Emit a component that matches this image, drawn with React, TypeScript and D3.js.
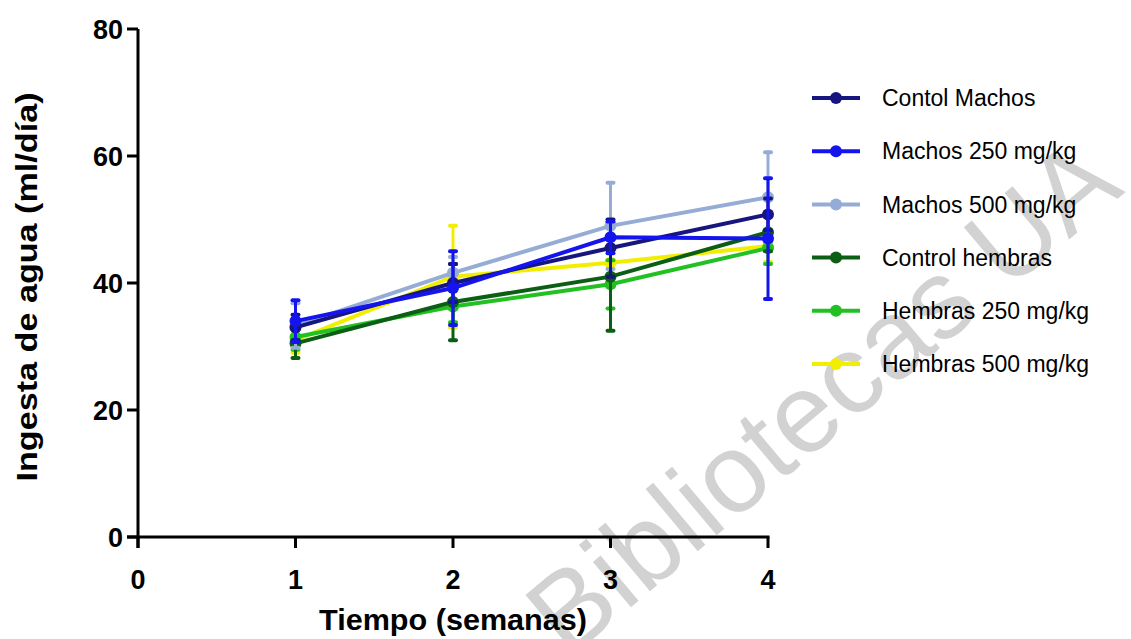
import * as d3 from 'd3'

const width = 1131
const height = 639

// weeks on the x axis
const weeks = [1, 2, 3, 4]
const xTicks = [0, 1, 2, 3, 4]
const yTicks = [0, 20, 40, 60, 80]

const seriesNames = [
  'Contol Machos',
  'Machos 250 mg/kg',
  'Machos 500 mg/kg',
  'Control hembras',
  'Hembras 250 mg/kg',
  'Hembras 500 mg/kg',
]
const seriesColors = ['#16167e', '#1414ee', '#95acd6', '#0c5e14', '#22c022', '#f2ee00']

// mean water intake (ml/day)
const controlMachos = [33.0, 40.0, 45.5, 50.8]
const machos250 = [34.0, 39.2, 47.2, 47.0]
const machos500 = [33.3, 41.6, 49.0, 53.5]
const controlHembras = [30.5, 37.0, 41.0, 48.0]
const hembras250 = [31.5, 36.3, 39.8, 45.5]
const hembras500 = [31.0, 41.0, 43.2, 45.8]

// error (SD)
const controlMachosSd = [2.0, 3.0, 4.5, 2.5]
const machos250Sd = [3.3, 5.8, 2.5, 9.5]
const machos500Sd = [3.5, 2.5, 6.8, 7.1]
const controlHembrasSd = [2.3, 6.0, 8.5, 3.0]
const hembras250Sd = [2.0, 2.5, 3.8, 2.5]
const hembras500Sd = [2.0, 8.0, 2.5, 2.5]

const means = [controlMachos, machos250, machos500, controlHembras, hembras250, hembras500]
const sds = [controlMachosSd, machos250Sd, machos500Sd, controlHembrasSd, hembras250Sd, hembras500Sd]

// drawing order: last one on top
const drawOrder = [5, 4, 3, 2, 0, 1]

const font = "'Liberation Sans', Arial, sans-serif"

function App() {
  const xScale = d3.scaleLinear().domain([0, 4]).range([138, 768])
  const yScale = d3.scaleLinear().domain([0, 80]).range([537, 29])

  const line = d3
    .line<number>()
    .x((_, i) => xScale(weeks[i]))
    .y((d) => yScale(d))

  const legendX = 812
  const legendY0 = 98
  const legendStep = 53.2

  return (
    <svg
      width={width}
      height={height}
      style={{ position: 'absolute', left: 0, top: 0, background: '#fff' }}
    >
      {/* watermark */}
      <text
        transform="translate(568,660) rotate(-40)"
        fontFamily={font}
        fontSize={112}
        fill="#d2d2d2"
      >
        Bibliotecas UA
      </text>

      {/* y axis */}
      <line x1={xScale(0)} x2={xScale(0)} y1={yScale(80)} y2={yScale(0) + 11} stroke="#000" strokeWidth={3} />
      {yTicks.map((t) => (
        <g key={t} transform={`translate(${xScale(0)},${yScale(t)})`}>
          <line x1={-11} x2={0} stroke="#000" strokeWidth={3} />
          <text
            x={-15}
            dy=".36em"
            textAnchor="end"
            fontFamily={font}
            fontWeight="bold"
            fontSize={27}
          >
            {t}
          </text>
        </g>
      ))}

      {/* x axis */}
      <line x1={xScale(0) - 11} x2={xScale(4) + 1.5} y1={yScale(0)} y2={yScale(0)} stroke="#000" strokeWidth={3} />
      {xTicks.map((t) => (
        <g key={t} transform={`translate(${xScale(t)},${yScale(0)})`}>
          <line y1={0} y2={11} stroke="#000" strokeWidth={3} />
          <text
            y={52}
            textAnchor="middle"
            fontFamily={font}
            fontWeight="bold"
            fontSize={27}
          >
            {t}
          </text>
        </g>
      ))}

      {/* axis titles */}
      <text
        x={453}
        y={630}
        textAnchor="middle"
        fontFamily={font}
        fontWeight="bold"
        fontSize={30}
        textLength={268}
        lengthAdjust="spacingAndGlyphs"
      >
        Tiempo (semanas)
      </text>
      <text
        transform="translate(37,287) rotate(-90)"
        textAnchor="middle"
        fontFamily={font}
        fontWeight="bold"
        fontSize={29}
        textLength={389}
        lengthAdjust="spacingAndGlyphs"
      >
        Ingesta de agua (ml/día)
      </text>

      {/* series */}
      {drawOrder.map((s) => (
        <g key={s}>
          <path d={line(means[s]) ?? ''} fill="none" stroke={seriesColors[s]} strokeWidth={4} />
          {means[s].map((m, i) => {
            const cx = xScale(weeks[i])
            const top = yScale(m + sds[s][i])
            const bottom = yScale(m - sds[s][i])
            return (
              <g key={i}>
                <line x1={cx} x2={cx} y1={top} y2={bottom} stroke={seriesColors[s]} strokeWidth={3} />
                <line x1={cx - 3} x2={cx + 3} y1={top} y2={top} stroke={seriesColors[s]} strokeWidth={4} strokeLinecap="round" />
                <line x1={cx - 3} x2={cx + 3} y1={bottom} y2={bottom} stroke={seriesColors[s]} strokeWidth={4} strokeLinecap="round" />
                <circle cx={cx} cy={yScale(m)} r={6} fill={seriesColors[s]} />
              </g>
            )
          })}
        </g>
      ))}

      {/* legend */}
      {seriesNames.map((name, i) => {
        const y = legendY0 + i * legendStep
        return (
          <g key={name}>
            <line x1={legendX} x2={legendX + 48} y1={y} y2={y} stroke={seriesColors[i]} strokeWidth={4} />
            <circle cx={legendX + 24} cy={y} r={6} fill={seriesColors[i]} />
            <text x={882} y={y} dy=".36em" fontFamily={font} fontSize={23} fill="#000">
              {name}
            </text>
          </g>
        )
      })}
    </svg>
  )
}

export default App
